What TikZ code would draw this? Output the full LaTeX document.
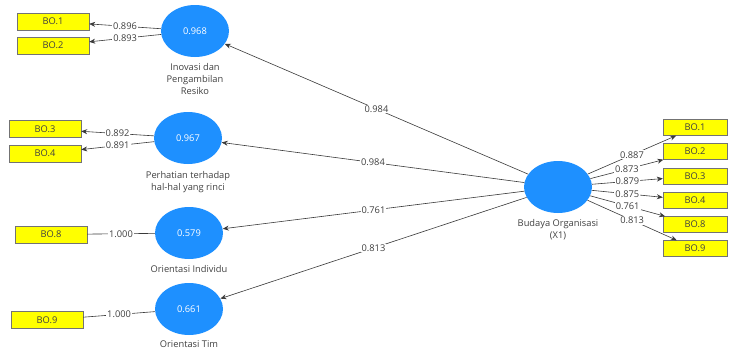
\documentclass[tikz,border=0pt]{standalone}
\usepackage{fontspec}
\setmainfont{Open Sans}
\usepackage{tikz}
\usetikzlibrary{shapes.geometric, positioning, arrows.meta}

\definecolor{plsblue}{HTML}{1E90FF}
\definecolor{plsyellow}{HTML}{FFFF00}
\definecolor{plsline}{HTML}{3A3A3A}
\definecolor{plstext}{HTML}{404040}

\begin{document}
\begin{tikzpicture}[
        x=1pt, y=-1pt,
        font=\fontsize{9.3}{12}\selectfont,
        latent/.style={ellipse, fill=plsblue, minimum width=68pt, minimum height=52pt, inner sep=0pt, text=white},
        indicator/.style={rectangle, draw=black!55, line width=0.4pt, fill=plsyellow, minimum width=72pt, minimum height=17pt, inner sep=0pt, text=plstext},
        rindicator/.style={indicator, minimum width=64pt, minimum height=16pt},
        caption/.style={align=center, text=plstext, inner sep=0pt},
        loading/.style={draw=plsline, line width=0.6pt},
        arrow/.style={loading, -{Stealth[length=6pt, width=5pt]}},
        value/.style={fill=white, inner sep=1pt, text=plstext}
    ]
%
    \useasboundingbox[fill=white] (0,0) rectangle (729,348);
%
    % Nodes
    \node[latent] (inov) at (195,31) {0.968};
    \node[latent] (perh) at (188,138) {0.967};
    \node[latent] (indiv) at (189,233) {0.579};
    \node[latent] (tim) at (189,309) {0.661};
    \node[latent] (budaya) at (558,187) {};
%
    \node[caption, below=6pt of inov] (capinov) {Inovasi dan\\Pengambilan\\Resiko};
    \node[caption, below=7pt of perh] (capperh) {Perhatian terhadap\\hal-hal yang rinci};
    \node[caption, below=6pt of indiv] (capindiv) {Orientasi Individu};
    \node[caption, below=5pt of tim] (captim) {Orientasi Tim};
    \node[caption, below=6pt of budaya] (capbudaya) {Budaya Organisasi\\(X1)};
%
    \node[indicator] (lbo1) at (53,21.5) {BO.1};
    \node[indicator] (lbo2) at (53,45.5) {BO.2};
    \node[indicator] (lbo3) at (45,129) {BO.3};
    \node[indicator] (lbo4) at (45,153.5) {BO.4};
    \node[indicator] (lbo8) at (51,234.5) {BO.8};
    \node[indicator] (lbo9) at (47,320) {BO.9};
%
    \node[rindicator] (rbo1) at (695,127.5) {BO.1};
    \node[rindicator] (rbo2) at (695,151.5) {BO.2};
    \node[rindicator] (rbo3) at (695,176) {BO.3};
    \node[rindicator] (rbo4) at (695,200.5) {BO.4};
    \node[rindicator] (rbo8) at (695,224.5) {BO.8};
    \node[rindicator] (rbo9) at (695,248.5) {BO.9};
%
    % Arrows
    \draw[arrow] (inov) -- (lbo1) node[value, midway] {0.896};
    \draw[arrow] (inov) -- (lbo2) node[value, midway] {0.893};
    \draw[arrow] (perh) -- (lbo3) node[value, midway] {0.892};
    \draw[arrow] (perh) -- (lbo4) node[value, midway] {0.891};
    \draw[loading] (indiv) -- (lbo8) node[value, midway] {1.000};
    \draw[loading] (tim) -- (lbo9) node[value, midway] {1.000};
%
    \draw[arrow] (budaya) -- (inov) node[value, midway] {0.984};
    \draw[arrow] (budaya) -- (perh) node[value, midway] {0.984};
    \draw[arrow] (budaya) -- (indiv) node[value, midway] {0.761};
    \draw[arrow] (budaya) -- (tim) node[value, midway] {0.813};
%
    \draw[arrow] (budaya) -- (rbo1) node[value, midway] {0.887};
    \draw[arrow] (budaya) -- (rbo2) node[value, midway] {0.873};
    \draw[arrow] (budaya) -- (rbo3) node[value, midway] {0.879};
    \draw[arrow] (budaya) -- (rbo4) node[value, midway] {0.875};
    \draw[arrow] (budaya) -- (rbo8) node[value, midway] {0.761};
    \draw[arrow] (budaya) -- (rbo9) node[value, midway] {0.813};
%
\end{tikzpicture}
\end{document}
